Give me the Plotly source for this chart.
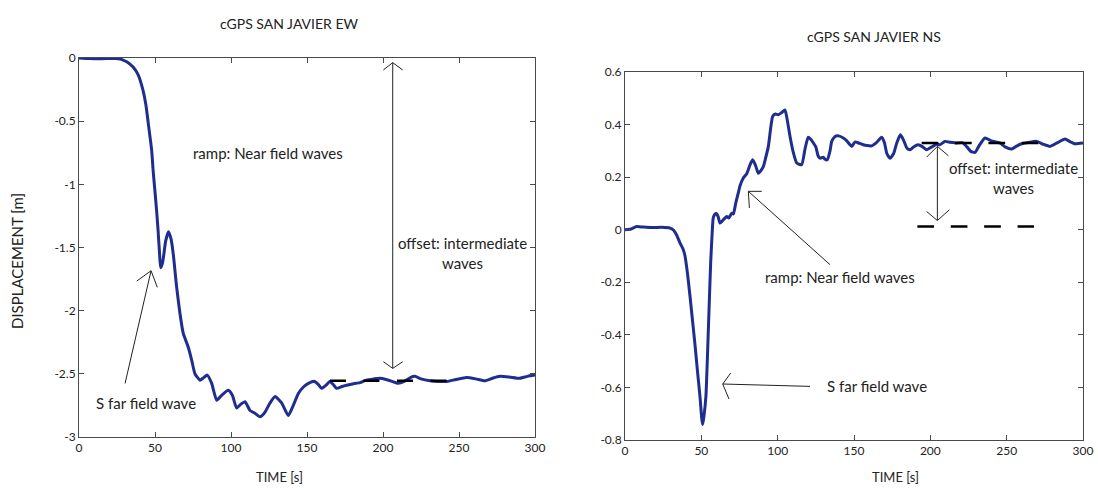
import plotly.graph_objects as go

# ---------------- data ----------------
ew_time = [0, 5, 10, 15, 20, 24, 27, 29, 31.4, 33.5, 35.5, 39, 42, 44, 45.5, 47.8, 48.7, 50, 51,
           52, 53, 53.7, 55, 57, 58.8, 60.5, 62, 64.2, 66.4, 68.6, 71.9, 74.1, 76.3, 79.6, 82,
           84.4, 87.3, 90.6, 93.8, 98.2, 100.9, 103.7, 106.5, 109.2, 112.5, 115.5, 119, 122,
           125.7, 129, 133.3, 137.7, 141, 144.3, 148, 150.9, 155, 157.5, 159.6, 162.5, 165,
           167.3, 169.5, 173, 176, 180, 184.9, 189, 194, 198, 202, 206, 210, 214, 218, 221,
           225, 231, 236, 242, 248, 255, 261, 267, 272, 277, 283, 290, 295, 300]
ew_disp = [0, -0.003, -0.005, -0.006, -0.004, -0.004, -0.008, -0.016, -0.03, -0.048, -0.07, -0.135,
           -0.25, -0.37, -0.51, -0.73, -0.88, -1.06, -1.2, -1.36, -1.55, -1.66, -1.62, -1.45,
           -1.375, -1.43, -1.55, -1.81, -2.02, -2.18, -2.29, -2.39, -2.5, -2.55, -2.53, -2.51,
           -2.576, -2.71, -2.67, -2.63, -2.67, -2.77, -2.74, -2.72, -2.79, -2.81, -2.84, -2.81,
           -2.73, -2.68, -2.73, -2.83, -2.75, -2.655, -2.6, -2.575, -2.56, -2.585, -2.615,
           -2.59, -2.56, -2.585, -2.615, -2.6, -2.59, -2.58, -2.57, -2.55, -2.54, -2.535,
           -2.545, -2.56, -2.575, -2.56, -2.53, -2.52, -2.54, -2.555, -2.56, -2.56, -2.545,
           -2.53, -2.54, -2.555, -2.535, -2.52, -2.525, -2.535, -2.52, -2.51]

ns_time = [0, 4, 7.6, 12, 18, 24, 29.5, 32, 33.8, 36, 38.2, 39.3, 41, 42.6, 44.3, 45.9, 47.5,
           49.1, 50.3, 50.9, 51.7, 53, 54.6, 56.1, 57.2, 57.8, 59, 60, 61, 62.2, 64, 66.6, 68,
           69.9, 71, 72.5, 74.2, 75.5, 77.5, 79.7, 81.9, 83.6, 85.5, 87.3, 89, 90.6, 92, 93.9,
           95.5, 96.7, 98.5, 100.4, 102.5, 104.8, 106.5, 108.1, 110, 112.5, 115.7, 118, 120,
           121.5, 123.4, 125, 126.6, 128, 129.9, 131, 132.5, 134.3, 135.4, 137.6, 140, 143,
           145, 147.4, 148.5, 150.7, 153, 156.1, 158.5, 161.6, 164.5, 168.1, 170, 171.5,
           173.6, 176, 178, 180.4, 182.5, 184.7, 186.7, 189, 192.1, 195, 197.6, 201, 204,
           206.3, 209.6, 213, 217.3, 221, 224, 226.5, 229.3, 232, 235.8, 240, 245.6, 249,
           253.3, 256.5, 259.8, 265, 269.7, 274, 278.4, 283, 288.2, 291.5, 294.8, 300]
ns_disp = [0, 0.003, 0.012, 0.01, 0.008, 0.009, 0.006, -0.003, -0.02, -0.05, -0.076, -0.1,
           -0.17, -0.254, -0.35, -0.44, -0.54, -0.634, -0.72, -0.741, -0.71, -0.634, -0.38,
           -0.127, 0.0, 0.045, 0.06, 0.061, 0.05, 0.025, 0.035, 0.05, 0.045, 0.063, 0.06, 0.1,
           0.14, 0.17, 0.197, 0.213, 0.247, 0.266, 0.245, 0.215, 0.225, 0.24, 0.27, 0.317,
           0.39, 0.431, 0.44, 0.437, 0.445, 0.456, 0.41, 0.355, 0.3, 0.254, 0.247, 0.31, 0.352,
           0.345, 0.33, 0.315, 0.279, 0.272, 0.276, 0.268, 0.266, 0.3, 0.336, 0.355, 0.357,
           0.349, 0.34, 0.323, 0.317, 0.334, 0.33, 0.323, 0.32, 0.319, 0.33, 0.352, 0.33,
           0.29, 0.272, 0.29, 0.33, 0.361, 0.34, 0.31, 0.304, 0.315, 0.323, 0.315, 0.304,
           0.315, 0.325, 0.323, 0.336, 0.333, 0.33, 0.331, 0.315, 0.298, 0.294, 0.32, 0.349,
           0.338, 0.33, 0.315, 0.307, 0.318, 0.327, 0.333, 0.336, 0.325, 0.317, 0.33, 0.345,
           0.335, 0.327, 0.33]

x_ticks = [0, 50, 100, 150, 200, 250, 300]
ew_y_ticks = [0, -0.5, -1, -1.5, -2, -2.5, -3]
ns_y_ticks = [0.6, 0.4, 0.2, 0, -0.2, -0.4, -0.6, -0.8]

ew_offset_level = -2.555
ns_offset_top = 0.33
ns_offset_base = 0.0127

# ---------------- style ----------------
W, H = 1098, 490
FONT = "Lato"
CURVE = "#1e2d8e"
FRAME = "#4a4a4a"
NOTE_SIZE = 15


def px_x(p):
    return p / W


def px_y(p):
    return 1 - p / H


def lbl(v):
    return ("%g" % v).replace("\u2212", "-")


fig = go.Figure()
fig.add_trace(go.Scatter(x=ew_time, y=ew_disp, mode="lines", xaxis="x", yaxis="y",
                         line=dict(color=CURVE, width=3, shape="spline", smoothing=0.5),
                         showlegend=False, hoverinfo="skip"))
fig.add_trace(go.Scatter(x=ns_time, y=ns_disp, mode="lines", xaxis="x2", yaxis="y2",
                         line=dict(color=CURVE, width=3, shape="spline", smoothing=0.5),
                         showlegend=False, hoverinfo="skip"))

axis_common = dict(showline=True, linecolor=FRAME, linewidth=1, mirror="ticks",
                   ticks="inside", ticklen=5, tickcolor=FRAME, showgrid=False,
                   zeroline=False, automargin=False,
                   tickfont=dict(family=FONT, size=12, color="#222"))

fig.update_layout(
    width=W, height=H, margin=dict(l=0, r=0, t=0, b=0),
    paper_bgcolor="white", plot_bgcolor="white",
    font=dict(family=FONT, size=13, color="#222"),
    xaxis=dict(domain=[px_x(79), px_x(535)], range=[0, 300], anchor="y",
               tickvals=x_ticks, ticktext=[lbl(v) for v in x_ticks], **axis_common),
    yaxis=dict(domain=[px_y(437), px_y(58)], range=[-3, 0], anchor="x",
               tickvals=ew_y_ticks, ticktext=[lbl(v) for v in ew_y_ticks], **axis_common),
    xaxis2=dict(domain=[px_x(625), px_x(1083)], range=[0, 300], anchor="y2",
                tickvals=x_ticks, ticktext=[lbl(v) for v in x_ticks], **axis_common),
    yaxis2=dict(domain=[px_y(440), px_y(72)], range=[-0.8, 0.6], anchor="x2",
                tickvals=ns_y_ticks, ticktext=[lbl(v) for v in ns_y_ticks], **axis_common),
)

shapes = []


def arrow(xr, yr, tip, tail, arms):
    shapes.append(dict(type="line", xref=xr, yref=yr, x0=tail[0], y0=tail[1],
                       x1=tip[0], y1=tip[1], line=dict(color="#222", width=1)))
    for dx, dy in arms:
        shapes.append(dict(type="line", xref=xr, yref=yr, xsizemode="pixel", ysizemode="pixel",
                           xanchor=tip[0], yanchor=tip[1], x0=0, y0=0, x1=dx, y1=dy,
                           line=dict(color="#222", width=1)))


def dashed(xr, yr, t0, t1, level, pattern):
    shapes.append(dict(type="line", xref=xr, yref=yr, x0=t0, x1=t1, y0=level, y1=level,
                       line=dict(color="black", width=2.5, dash=pattern)))


# left panel marks
arrow("x", "y", (47.4, -1.684), (30.3, -2.576), [(-14.3, -10.3), (6.3, -16.6)])
arrow("x", "y", (206.4, -0.037), (206.4, -2.457), [(-9.4, -7.3), (10, -7.3)])
arrow("x", "y", (206.4, -2.457), (206.4, -2.457), [(-9.4, 6.7), (10, 6.7)])
dashed("x", "y", 165.1, 242.1, ew_offset_level, "16px,17.5px")

# right panel marks
arrow("x2", "y2", (80.8, 0.146), (134.3, -0.133), [(13.4, 0), (1, -16.6)])
arrow("x2", "y2", (64.0, -0.587), (121.2, -0.596), [(8, 11), (6.3, -15)])
arrow("x2", "y2", (204.6, 0.317), (204.6, 0.035), [(-10.7, -10.7), (11, -9.3)])
arrow("x2", "y2", (204.6, 0.035), (204.6, 0.035), [(-10.7, 9), (12, 10.7)])
dashed("x2", "y2", 194.3, 270.7, ns_offset_top, "16.7px,16.7px")
dashed("x2", "y2", 191.5, 267.9, ns_offset_base, "16.7px,16.7px")

fig.update_layout(shapes=shapes)

ann = []


def text(x, y, s, xr="paper", yr="paper", xa="center", ang=0, size=13):
    ann.append(dict(x=x, y=y, xref=xr, yref=yr, text=s, showarrow=False, xanchor=xa,
                    yanchor="middle", textangle=ang,
                    font=dict(family=FONT, size=size, color="#222")))


text(px_x(289.5), px_y(23), "cGPS SAN JAVIER EW", size=14)
text(px_x(874), px_y(36), "cGPS SAN JAVIER NS", size=14)
text(px_x(279), px_y(477), "TIME [s]", size=13)
text(px_x(895), px_y(477), "TIME [s]", size=13)
text(px_x(17), px_y(261), "DISPLACEMENT [m]", ang=-90, size=15)

text(73.7, -0.752, "ramp: Near field waves", "x", "y", xa="left", size=NOTE_SIZE)
text(252.6, -1.544, "offset: intermediate<br>waves", "x", "y", size=NOTE_SIZE)
text(44.4, -2.73, "S far field wave", "x", "y", size=NOTE_SIZE)

text(90.2, -0.179, "ramp: Near field waves", "x2", "y2", xa="left", size=NOTE_SIZE)
text(131.0, -0.596, "S far field wave", "x2", "y2", xa="left", size=NOTE_SIZE)
text(254.4, 0.198, "offset: intermediate<br>waves", "x2", "y2", size=NOTE_SIZE)

fig.update_layout(annotations=ann)

fig.write_html("out.html", config={"displayModeBar": False},
               post_script="document.body.style.margin='0';")
